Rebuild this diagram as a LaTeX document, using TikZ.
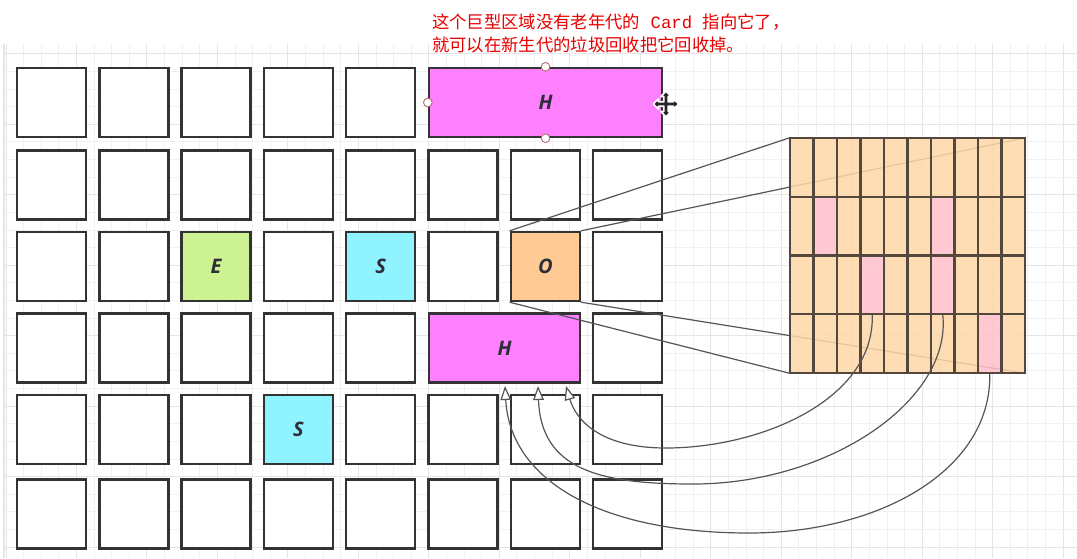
\documentclass[tikz,border=0pt]{standalone}
\usepackage{fontspec}
\setsansfont{Open Sans}
\newfontfamily\cjk{Noto Sans CJK SC}
\newfontfamily\monof{Liberation Mono}
\usetikzlibrary{arrows.meta,calc}
\definecolor{gridminor}{HTML}{F1F1F1}
\definecolor{gridmajor}{HTML}{E5E5E5}
\definecolor{cellline}{HTML}{333333}
\definecolor{labelc}{HTML}{2E2E3A}
\definecolor{hmag}{HTML}{FF80FF}
\definecolor{egreen}{HTML}{CCF291}
\definecolor{scyan}{HTML}{8FF4FF}
\definecolor{oorange}{HTML}{FFCA94}
\definecolor{peach}{HTML}{FFD8A8}
\definecolor{pinkc}{HTML}{FFC0CB}
\definecolor{tline}{HTML}{54483E}
\definecolor{linkc}{HTML}{555555}
\definecolor{redt}{HTML}{E80000}
\definecolor{handlec}{HTML}{B87070}
\pgfdeclarelayer{background}
\pgfdeclarelayer{lines}
\pgfdeclarelayer{front}
\pgfsetlayers{background,main,lines,front}
\begin{document}
\begin{tikzpicture}[x=0.75pt,y=-0.75pt,
  cell/.style={draw=cellline, line width=1.8pt, fill=white, minimum width=51.75pt,
    minimum height=51.75pt, inner sep=0pt, text=labelc,
    font=\sffamily\bfseries\itshape\fontsize{15}{16}\selectfont},
  tcell/.style={fill=peach, fill opacity=0.86,
    minimum width=17.625pt, minimum height=44.06pt, inner sep=0pt},
  tborder/.style={draw=tline, line width=1.4pt},
  fill-2-2/.style={fill=pinkc}, fill-2-7/.style={fill=pinkc},
  fill-3-4/.style={fill=pinkc}, fill-3-7/.style={fill=pinkc},
  fill-4-9/.style={fill=pinkc},
  proj/.style={draw=linkc, line width=0.9pt},
  curve/.style={draw=linkc, line width=0.9pt,
    -{Triangle[length=10.5pt,width=8pt,fill=white]}},
  handle/.style={circle, draw=handlec, fill=white, line width=0.7pt,
    minimum size=6.5pt, inner sep=0pt},
  redtext/.style={anchor=base west, inner sep=0pt, text=redt,
    font=\cjk\fontsize{13}{15}\selectfont}
]
\useasboundingbox (0,0) rectangle (1077,558);

% background grid
\begin{pgfonlayer}{background}
\fill[white] (0,0) rectangle (1077,558);
\foreach \i in {0,...,60}{
  \pgfmathtruncatemacro\mm{mod(\i,4)}
  \ifnum\mm=0 \def\gc{gridmajor}\else\def\gc{gridminor}\fi
  \draw[\gc, line width=0.75pt] ({6+17.62*\i},44) -- ({6+17.62*\i},558);
}
\foreach \j in {0,...,28}{
  \pgfmathtruncatemacro\mm{mod(\j,4)}
  \ifnum\mm=0 \def\gc{gridmajor}\else\def\gc{gridminor}\fi
  \draw[\gc, line width=0.75pt] (4,{53.8+17.62*\j}) -- (1077,{53.8+17.62*\j});
}
\draw[gridmajor, line width=1.5pt] (4,44) -- (4,558);
\end{pgfonlayer}

% white squares
\foreach \r/\y in {1/102.5,2/185,3/266.5,4/348,5/429.5,6/514}{
  \foreach \c/\x in {1/51.5,2/133.8,3/216.1,4/298.4,5/380.7,6/463,7/545.3,8/627.6}{
    \pgfmathtruncatemacro\skipit{((\r==1)&&(\c>5)) || ((\r==3)&&((\c==3)||(\c==5)||(\c==7))) || ((\r==4)&&((\c==6)||(\c==7))) || ((\r==5)&&(\c==4))}
    \ifnum\skipit=0 \node[cell] (c-\r-\c) at (\x,\y) {}; \fi
  }
}
% coloured blocks
\node[cell, fill=egreen] (e) at (216.1,266.5) {E};
\node[cell, fill=scyan] (s1) at (380.7,266.5) {S};
\node[cell, fill=oorange] (o) at (545.3,266.5) {O};
\node[cell, fill=scyan] (s2) at (298.4,429.5) {S};
\node[cell, fill=hmag, minimum width=174.75pt] (h1) at (545.5,102.5) {H};
\node[cell, fill=hmag, minimum width=113.25pt] (h2) at (504.5,348) {H};

% card table
\begin{pgfonlayer}{front}
\foreach \r in {1,...,4}{
  \foreach \c in {1,...,10}{
    \node[tcell, fill-\r-\c/.try] (t-\r-\c) at ({790+23.5*(\c-0.5)},{138+58.75*(\r-0.5)}) {};
  }
}
\foreach \r in {1,...,4}{
  \foreach \c in {1,...,10}{
    \draw[tborder] (t-\r-\c.north west) rectangle (t-\r-\c.south east);
  }
}
\end{pgfonlayer}

% projection lines from O to the card table
\begin{pgfonlayer}{lines}
\draw[proj] (o.north west) -- (t-1-1.north west);
\draw[proj] (o.north east) -- (t-1-10.north east);
\draw[proj] (o.south west) -- (t-4-1.south west);
\draw[proj] (o.south east) -- (t-4-10.south east);
\end{pgfonlayer}

\begin{pgfonlayer}{front}
% arrow end points on the lower H
\coordinate (a1) at (566,386);
\coordinate (a2) at (538,386);
\coordinate (a3) at (505,386);
\draw[curve] (t-3-4.south) .. controls (875,400) and (760,448) .. (666,448)
  .. controls (600,448) and (576,420) .. (a1);
\draw[curve] (t-3-7.south) .. controls (952,400) and (830,484) .. (693,484)
  .. controls (600,484) and (541,470) .. (a2);
\draw[curve] (t-4-9.south) .. controls (992,470) and (880,533) .. (749,533)
  .. controls (600,533) and (510,480) .. (a3);

% selection handles
\node[handle] (hd1) at (h1.north) {};
\node[handle] (hd2) at (h1.west) {};
\node[handle] (hd3) at (h1.south) {};
% move cursor
\begin{scope}[shift={(666,104)}, scale=1.15]
\draw[white, line width=1.2pt, fill=black!85, line join=round]
  (0,-11) -- (4.5,-6.5) -- (1.8,-6.5) -- (1.8,-1.8) -- (6.5,-1.8) -- (6.5,-4.5) -- (11,0)
  -- (6.5,4.5) -- (6.5,1.8) -- (1.8,1.8) -- (1.8,6.5) -- (4.5,6.5) -- (0,11) -- (-4.5,6.5)
  -- (-1.8,6.5) -- (-1.8,1.8) -- (-6.5,1.8) -- (-6.5,4.5) -- (-11,0) -- (-6.5,-4.5)
  -- (-6.5,-1.8) -- (-1.8,-1.8) -- (-1.8,-6.5) -- (-4.5,-6.5) -- cycle;
\end{scope}

% note
\node[redtext] (note1) at (432,28.6) {这个巨型区域没有老年代的{\monof\ Card\ }指向它了，};
\node[redtext] (note2) at (432,51.6) {就可以在新生代的垃圾回收把它回收掉。};
\end{pgfonlayer}
\end{tikzpicture}
\end{document}
